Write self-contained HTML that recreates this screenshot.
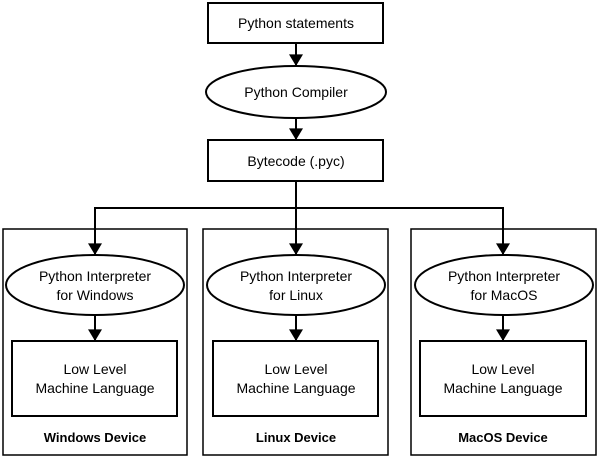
<!DOCTYPE html>
<html><head><style>body{margin:0;background:#fff}</style></head><body>
<svg width="599" height="457" viewBox="0 0 599 457" xmlns="http://www.w3.org/2000/svg" font-family="Liberation Sans, sans-serif" font-size="14" text-anchor="middle">
<defs><marker id="a" markerWidth="14" markerHeight="14" refX="10" refY="6" orient="auto" markerUnits="userSpaceOnUse" viewBox="0 0 10 12"><path d="M0,0 L10,6 L0,12 z" fill="#000"/></marker></defs>
<g fill="#fff" stroke="#000" stroke-width="2">
<rect x="208" y="3" width="175" height="40"/>
<ellipse cx="296" cy="92" rx="90" ry="26"/>
<rect x="208" y="140" width="175" height="41"/>
<rect x="3" y="229" width="184" height="226" stroke-width="1.5"/>
<rect x="203" y="229" width="185" height="226" stroke-width="1.5"/>
<rect x="411" y="229" width="185" height="226" stroke-width="1.5"/>
<ellipse cx="95" cy="285" rx="89" ry="30"/>
<ellipse cx="296" cy="285" rx="89" ry="30"/>
<ellipse cx="504" cy="285" rx="89" ry="30"/>
<rect x="12" y="341" width="165" height="75"/>
<rect x="213" y="341" width="165" height="75"/>
<rect x="420" y="341" width="166" height="75"/>
</g>
<g stroke="#000" stroke-width="2" fill="none" marker-end="url(#a)">
<line x1="296" y1="43" x2="296" y2="66"/>
<line x1="296" y1="118" x2="296" y2="140"/>
<line x1="296" y1="181" x2="296" y2="255"/>
<polyline points="296,208 95,208 95,255"/>
<polyline points="296,208 503,208 503,255"/>
<line x1="95" y1="315" x2="95" y2="341"/>
<line x1="296" y1="315" x2="296" y2="341"/>
<line x1="503" y1="315" x2="503" y2="341"/>
</g>
<text x="296" y="28">Python statements</text>
<text x="296" y="97">Python Compiler</text>
<text x="296" y="166">Bytecode (.pyc)</text>
<text x="95" y="281">Python Interpreter</text><text x="95" y="300">for Windows</text>
<text x="296" y="281">Python Interpreter</text><text x="296" y="300">for Linux</text>
<text x="504" y="281">Python Interpreter</text><text x="504" y="300">for MacOS</text>
<text x="95" y="374">Low Level</text><text x="95" y="393">Machine Language</text>
<text x="296" y="374">Low Level</text><text x="296" y="393">Machine Language</text>
<text x="503" y="374">Low Level</text><text x="503" y="393">Machine Language</text>
<g font-weight="bold" font-size="13"><text x="95" y="442">Windows Device</text><text x="296" y="442">Linux Device</text><text x="503" y="442">MacOS Device</text></g>
</svg>
</body></html>
